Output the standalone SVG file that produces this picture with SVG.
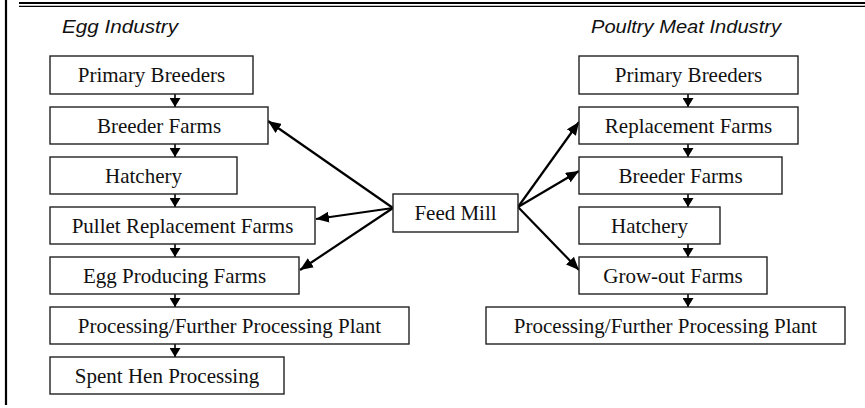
<svg xmlns="http://www.w3.org/2000/svg" width="865" height="408" viewBox="0 0 865 408">
<defs>
<style>
.box{fill:#fff;stroke:#222;stroke-width:1.4}
.t{font-family:"Liberation Serif","Times New Roman",serif;font-size:21px;fill:#111;text-anchor:middle}
.title{font-family:"Liberation Sans",Arial,sans-serif;font-style:italic;font-size:19px;fill:#111}
.fl{stroke:#000;stroke-width:2.2;fill:none;marker-end:url(#big)}
.vl{stroke:#000;stroke-width:1.6;fill:none;marker-end:url(#small)}
</style>
<marker id="big" markerUnits="userSpaceOnUse" markerWidth="14" markerHeight="11" refX="13" refY="5.5" orient="auto"><path d="M0,0 L13,5.5 L0,11 z" fill="#000"/></marker>
<marker id="small" markerUnits="userSpaceOnUse" markerWidth="10" markerHeight="11" refX="9" refY="5.5" orient="auto"><path d="M0,0 L9,5.5 L0,11 z" fill="#000"/></marker>
</defs>
<rect width="865" height="408" fill="#fff"/>
<g id="frame">
<line x1="6" y1="0" x2="6" y2="405" stroke="#000" stroke-width="2.2"/>
<line x1="19" y1="3" x2="865" y2="3" stroke="#000" stroke-width="2.2"/>
<line x1="19" y1="6.4" x2="865" y2="6.4" stroke="#000" stroke-width="1.3"/>
</g>
<g id="titles">
<text class="title" x="62" y="33" textLength="116" lengthAdjust="spacingAndGlyphs">Egg Industry</text>
<text class="title" x="591" y="33" textLength="190" lengthAdjust="spacingAndGlyphs">Poultry Meat Industry</text>
</g>
<g id="connectors">
<line class="vl" x1="175" y1="94" x2="175" y2="107"/>
<line class="vl" x1="175" y1="144" x2="175" y2="157"/>
<line class="vl" x1="175" y1="194" x2="175" y2="207"/>
<line class="vl" x1="175" y1="244" x2="175" y2="257"/>
<line class="vl" x1="175" y1="294" x2="175" y2="307"/>
<line class="vl" x1="175" y1="344" x2="175" y2="357"/>
<line class="vl" x1="688" y1="94" x2="688" y2="107"/>
<line class="vl" x1="688" y1="144" x2="688" y2="157"/>
<line class="vl" x1="688" y1="194" x2="688" y2="207"/>
<line class="vl" x1="688" y1="244" x2="688" y2="257"/>
<line class="vl" x1="688" y1="294" x2="688" y2="307"/>
<line class="fl" x1="393" y1="208" x2="268" y2="121"/>
<line class="fl" x1="393" y1="208" x2="316" y2="219"/>
<line class="fl" x1="393" y1="208" x2="300" y2="270"/>
<line class="fl" x1="518" y1="207" x2="579" y2="122"/>
<line class="fl" x1="518" y1="207" x2="579" y2="171"/>
<line class="fl" x1="518" y1="207" x2="579" y2="270"/>
</g>
<g id="egg-primary-breeders"><rect class="box" x="50" y="56" width="203" height="38"/><text class="t" x="151.5" y="82">Primary Breeders</text></g>
<g id="egg-breeder-farms"><rect class="box" x="50" y="107" width="218" height="37"/><text class="t" x="159" y="133">Breeder Farms</text></g>
<g id="egg-hatchery"><rect class="box" x="50" y="157" width="187" height="37"/><text class="t" x="143.5" y="183">Hatchery</text></g>
<g id="egg-pullet"><rect class="box" x="50" y="207" width="265" height="37"/><text class="t" x="182.5" y="233">Pullet Replacement Farms</text></g>
<g id="egg-producing"><rect class="box" x="50" y="257" width="249" height="37"/><text class="t" x="174.5" y="283">Egg Producing Farms</text></g>
<g id="egg-processing"><rect class="box" x="50" y="307" width="359" height="37"/><text class="t" x="229.5" y="333">Processing/Further Processing Plant</text></g>
<g id="egg-spent-hen"><rect class="box" x="50" y="357" width="234" height="37"/><text class="t" x="167" y="383">Spent Hen Processing</text></g>
<g id="feed-mill"><rect class="box" x="393" y="194" width="125" height="38"/><text class="t" x="455.5" y="220">Feed Mill</text></g>
<g id="meat-primary-breeders"><rect class="box" x="579" y="56" width="219" height="38"/><text class="t" x="688.5" y="82">Primary Breeders</text></g>
<g id="meat-replacement"><rect class="box" x="579" y="107" width="219" height="37"/><text class="t" x="688.5" y="133">Replacement Farms</text></g>
<g id="meat-breeder-farms"><rect class="box" x="579" y="157" width="203" height="37"/><text class="t" x="680.5" y="183">Breeder Farms</text></g>
<g id="meat-hatchery"><rect class="box" x="579" y="207" width="141" height="37"/><text class="t" x="649.5" y="233">Hatchery</text></g>
<g id="meat-grow-out"><rect class="box" x="579" y="257" width="188" height="37"/><text class="t" x="673" y="283">Grow-out Farms</text></g>
<g id="meat-processing"><rect class="box" x="486" y="307" width="359" height="37"/><text class="t" x="665.5" y="333">Processing/Further Processing Plant</text></g>
</svg>
